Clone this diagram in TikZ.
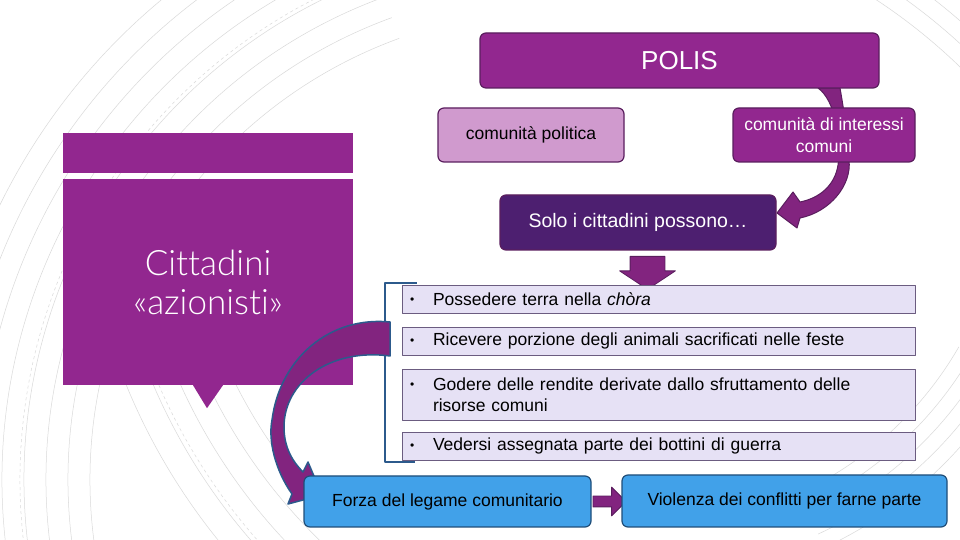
\documentclass[tikz,border=0pt]{standalone}
\usepackage{fontspec}
\setmainfont{Liberation Sans}
\newfontfamily\lightfont{Lato Light}[Ligatures={NoCommon,NoRare,NoDiscretionary}]
\usetikzlibrary{shapes.arrows,positioning}

\definecolor{polispurple}{HTML}{92278F}
\definecolor{darkpurple}{HTML}{4D1F70}
\definecolor{lightpurple}{HTML}{D09ACE}
\definecolor{edgepurple}{HTML}{5A1E5E}
\definecolor{itemfill}{HTML}{E6E1F5}
\definecolor{itemedge}{HTML}{6B5C80}
\definecolor{skyblue}{HTML}{41A1E9}
\definecolor{navy}{HTML}{1F4E79}
\definecolor{arrowpurple}{HTML}{82247F}
\definecolor{bracketblue}{HTML}{2C5A8C}

\def\itemwidth{497pt}

\begin{document}
\begin{tikzpicture}[x=1pt,y=1pt,line join=round]
    \tikzstyle{box}=[rectangle,rounded corners=6pt,draw=edgepurple,line width=1.2pt,inner sep=0pt,font=\fontsize{17.5}{22}\selectfont,align=center]
    \tikzstyle{purple box}=[box,fill=polispurple,text=white]
    \tikzstyle{light box}=[box,fill=lightpurple,text=black]
    \tikzstyle{dark box}=[box,fill=darkpurple,text=white]
    \tikzstyle{blue box}=[box,fill=skyblue,draw=navy,text=black]
    \tikzstyle{list item}=[rectangle,fill=itemfill,draw=itemedge,line width=0.8pt,inner xsep=8pt,inner ysep=0pt,text width=\itemwidth,align=left,font=\fontsize{17.5}{21}\selectfont]
    \tikzstyle{block arrow}=[single arrow,fill=arrowpurple,draw=edgepurple,line width=0.8pt,single arrow head indent=0pt,inner xsep=0pt]
    \tikzstyle{deco}=[gray!30,line width=0.5pt]

    \fill[white] (0,0) rectangle (960,540);
    \useasboundingbox (0,0) rectangle (960,540);

    % Draw the rings in the background
    \foreach \r in {470,492,...,630}
        \draw[deco] (560,60) ++(110:\r) arc (110:190:\r);
    \draw[deco,dashed] (560,60) ++(112:540) arc (112:188:540);
    \foreach \r in {575,592,...,630}
        \draw[deco] (560,60) ++(42:\r) arc (42:60:\r);
    \foreach \r in {520,545,...,640}
        \draw[deco] (700,390) ++(200:\r) arc (200:226:\r);
    \draw[deco,dashed] (700,390) ++(200:590) arc (200:224:590);
    \foreach \r in {360,375,...,432}
        \draw[deco] (647,373) ++(295:\r) arc (295:330:\r);

    % Curved arrow from the polis down to the citizens
    \filldraw[fill=arrowpurple,draw=edgepurple,line width=1pt]
        (818,452) .. controls (835,440) and (842,400) .. (838,375)
        .. controls (835,355) and (820,342) .. (800,338)
        -- (793,348) -- (777,327) -- (797,312) -- (800,322)
        .. controls (830,328) and (852,355) .. (849,380)
        .. controls (847,410) and (843,435) .. (840,452) -- cycle;

    % Draw the top boxes
    \node[purple box,minimum width=399pt,minimum height=55pt,font=\fontsize{26}{30}\selectfont] (polis) at (679.5,479.5) {POLIS};
    \node[light box,minimum width=186pt,minimum height=54pt] (politica) at (531,405) {comunità politica};
    \node[purple box,minimum width=182pt,minimum height=54pt] (interessi) at (824,405) {comunità di interessi\\comuni};
    \node[dark box,minimum width=276pt,minimum height=55pt,font=\fontsize{19.5}{22}\selectfont] (solo) at (638,317.5) {Solo i cittadini possono…};
    \node[block arrow,rotate=-90,minimum height=33pt,inner ysep=17pt,single arrow head extend=10.5pt,single arrow tip angle=113] (down) at ([xshift=9.5pt,yshift=-16.5pt]solo.south) {};

    % The callout on the left
    \node[rectangle,fill=polispurple,minimum width=290pt,minimum height=40pt,inner sep=0pt] (bar) at (208,387) {};
    \node[rectangle,fill=polispurple,minimum width=290pt,minimum height=206pt,inner sep=0pt,text=white,align=center,font=\lightfont\fontsize{35}{39}\selectfont] (cittadini) at (208,258) {Cittadini\\«azionisti»};
    \fill[polispurple] ([xshift=-15pt]cittadini.south) -- ([xshift=15pt]cittadini.south) -- ([xshift=-1pt,yshift=-23pt]cittadini.south) -- cycle;

    % Draw the list of rights
    \foreach \name / \y / \h / \txt in {1/241/28/{Possedere terra nella \textit{chòra}},
            2/199/28/{Ricevere porzione degli animali sacrificati nelle feste},
            3/145.5/51/{Godere delle rendite derivate dallo sfruttamento delle\\risorse comuni},
            4/94/28/{Vedersi assegnata parte dei bottini di guerra}}
        \node[list item,minimum height=\h pt] (it-\name) at (658.5,\y)
            {\makebox[23pt][l]{\raisebox{1.5pt}{\fontsize{12}{12}\selectfont\textbullet}}\parbox[t]{470pt}{\txt}};

    % Bracket round the list
    \draw[bracketblue,line width=2pt] ([xshift=15pt,yshift=2pt]it-1.north west) -- ++(-32pt,0) |- ([xshift=13pt,yshift=-2pt]it-4.south west);

    % Curved arrow from the list to the bottom boxes
    \filldraw[fill=arrowpurple,draw=bracketblue,line width=1.5pt]
        (390,218) .. controls (330,224) and (280,182) .. (272,120)
        .. controls (268,100) and (275,70) .. (292,46)
        -- (288,36) -- (322,45) -- (308,78) -- (303,68)
        .. controls (293,78) and (284,92) .. (284,113)
        .. controls (284,158) and (330,192) .. (390,184) -- cycle;

    % Draw the bottom boxes
    \node[blue box,minimum width=287pt,minimum height=51pt] (forza) at (447.5,38.5) {Forza del legame comunitario};
    \node[block arrow,minimum height=33pt,inner ysep=5pt,single arrow head extend=9pt,right=1pt of forza] (link) {};
    \node[blue box,minimum width=325pt,minimum height=52pt] (violenza) at (784.5,39) {Violenza dei conflitti per farne parte};

\end{tikzpicture}
\end{document}
